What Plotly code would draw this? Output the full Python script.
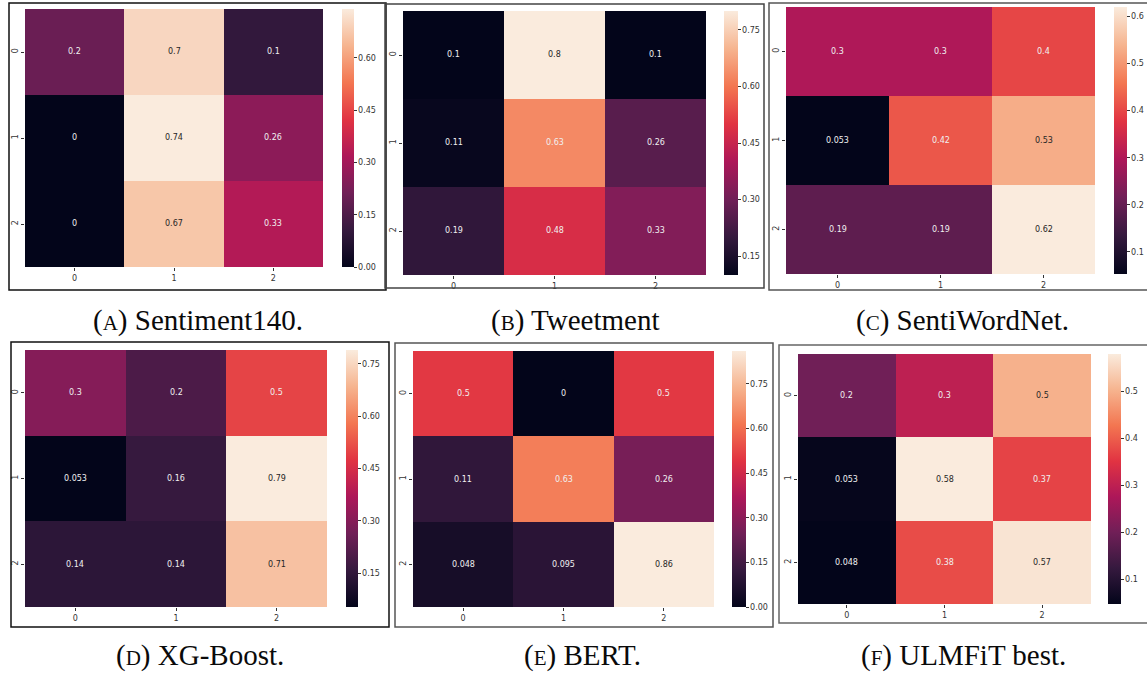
import plotly.graph_objects as go

W, H = 1147, 675

# Confusion-matrix values (rows = true class, cols = predicted class)
sentiment140 = [[0.2, 0.7, 0.1], [0.0, 0.74, 0.26], [0.0, 0.67, 0.33]]
tweetment = [[0.1, 0.8, 0.1], [0.11, 0.63, 0.26], [0.19, 0.48, 0.33]]
sentiwordnet = [[0.3, 0.3, 0.4], [0.053, 0.42, 0.53], [0.19, 0.19, 0.62]]
xgboost = [[0.3, 0.2, 0.5], [0.053, 0.16, 0.79], [0.14, 0.14, 0.71]]
bert = [[0.5, 0.0, 0.5], [0.11, 0.63, 0.26], [0.048, 0.095, 0.86]]
ulmfit = [[0.2, 0.3, 0.5], [0.053, 0.58, 0.37], [0.048, 0.38, 0.57]]

class_labels = ["0", "1", "2"]

caption_letters = ["A", "B", "C", "D", "E", "F"]
caption_names = ["Sentiment140.", "Tweetment", "SentiWordNet.", "XG-Boost.", "BERT.", "ULMFiT best."]

cbar_ticks_a = ["0.00", "0.15", "0.30", "0.45", "0.60"]
cbar_ticks_b = ["0.15", "0.30", "0.45", "0.60", "0.75"]
cbar_ticks_c = ["0.1", "0.2", "0.3", "0.4", "0.5", "0.6"]
cbar_ticks_d = ["0.15", "0.30", "0.45", "0.60", "0.75"]
cbar_ticks_e = ["0.00", "0.15", "0.30", "0.45", "0.60", "0.75"]
cbar_ticks_f = ["0.1", "0.2", "0.3", "0.4", "0.5"]

matrices = [sentiment140, tweetment, sentiwordnet, xgboost, bert, ulmfit]
cbar_ticks = [cbar_ticks_a, cbar_ticks_b, cbar_ticks_c, cbar_ticks_d, cbar_ticks_e, cbar_ticks_f]

# Layout in pixels: heatmap box, colorbar box, frame box, caption centre
panels = [
    dict(hm=(25, 9, 323, 267), cb=(342, 354), frame=(9, 3, 386, 290), cap=(198, 320)),
    dict(hm=(403, 11, 706, 275), cb=(724, 738), frame=(385, 4, 764, 288), cap=(575, 320)),
    dict(hm=(786, 7, 1095, 274), cb=(1114, 1127), frame=(769, 3, 1152, 290), cap=(962, 320)),
    dict(hm=(25, 350, 327, 607), cb=(346, 358), frame=(11, 342, 389, 627), cap=(200, 655)),
    dict(hm=(413, 351, 714, 607), cb=(732, 746), frame=(395, 343, 773, 627), cap=(583, 655)),
    dict(hm=(798, 354, 1091, 604), cb=(1108, 1121), frame=(779, 345, 1152, 623), cap=(963, 655)),
]
frame_colors = ["#111111", "#444444", "#555555", "#111111", "#555555", "#666666"]

# seaborn "rocket" colormap stops
rocket = [
    (0.0, "#03051a"), (0.143, "#35193e"), (0.286, "#701f57"), (0.429, "#ad1759"),
    (0.571, "#e13342"), (0.714, "#f37651"), (0.857, "#f6b48f"), (1.0, "#faebdd"),
]


def hex_rgb(h):
    return tuple(int(h[i:i + 2], 16) for i in (1, 3, 5))


def rocket_rgb(t):
    t = min(max(t, 0.0), 1.0)
    for (p0, c0), (p1, c1) in zip(rocket[:-1], rocket[1:]):
        if t <= p1:
            f = (t - p0) / (p1 - p0) if p1 > p0 else 0
            a, b = hex_rgb(c0), hex_rgb(c1)
            return tuple(a[k] + (b[k] - a[k]) * f for k in range(3))
    return hex_rgb(rocket[-1][1])


def luminance(rgb):
    lin = []
    for c in rgb:
        c = c / 255
        lin.append(c / 12.92 if c <= 0.03928 else ((c + 0.055) / 1.055) ** 2.4)
    return 0.2126 * lin[0] + 0.7152 * lin[1] + 0.0722 * lin[2]


fig = go.Figure()
layout = dict(
    width=W, height=H, margin=dict(l=0, r=0, t=0, b=0),
    paper_bgcolor="white", plot_bgcolor="white", showlegend=False,
)
annotations = []
shapes = []

for i, (z, ticks, p) in enumerate(zip(matrices, cbar_ticks, panels), start=1):
    sfx = "" if i == 1 else str(i)
    flat = [v for row in z for v in row]
    zmin, zmax = min(flat), max(flat)
    x0, y0, x1, y1 = p["hm"]
    cbx0, cbx1 = p["cb"]

    fig.add_trace(go.Heatmap(
        z=z, x=[0, 1, 2], y=[0, 1, 2], coloraxis=f"coloraxis{sfx}",
        xaxis=f"x{sfx}", yaxis=f"y{sfx}", hoverinfo="skip",
    ))

    layout[f"coloraxis{sfx}"] = dict(
        colorscale=[[s, c] for s, c in rocket], cmin=zmin, cmax=zmax,
        colorbar=dict(
            x=cbx0 / W, xanchor="left", xpad=0,
            y=1 - y0 / H, yanchor="top", ypad=0,
            len=y1 - y0, lenmode="pixels",
            thickness=cbx1 - cbx0, thicknessmode="pixels",
            outlinewidth=0, ticks="outside", ticklen=3, tickwidth=0.8,
            tickcolor="#333333",
            tickvals=[float(t) for t in ticks], ticktext=ticks,
            tickfont=dict(family="DejaVu Sans", size=8, color="#333333"),
        ),
    )
    axis_common = dict(
        showgrid=False, zeroline=False, showline=False,
        ticks="outside", ticklen=3, tickwidth=0.8, tickcolor="#333333",
        tickfont=dict(family="DejaVu Sans", size=8, color="#333333"),
        tickvals=[0, 1, 2], ticktext=class_labels,
    )
    layout[f"xaxis{sfx}"] = dict(
        axis_common, domain=[x0 / W, x1 / W], range=[-0.5, 2.5],
        anchor=f"y{sfx}",
    )
    layout[f"yaxis{sfx}"] = dict(
        axis_common, domain=[1 - y1 / H, 1 - y0 / H], range=[2.5, -0.5],
        anchor=f"x{sfx}", tickangle=-90,
    )

    # Cell annotations
    for r, row in enumerate(z):
        for c, v in enumerate(row):
            t = (v - zmin) / (zmax - zmin)
            col = "#262626" if luminance(rocket_rgb(t)) > 0.408 else "#f0f0f0"
            annotations.append(dict(
                x=c, y=r, xref=f"x{sfx}", yref=f"y{sfx}", text=format(v, ".2g"),
                showarrow=False, font=dict(family="DejaVu Sans", size=8, color=col),
            ))

    fx0, fy0, fx1, fy1 = p["frame"]
    shapes.append(dict(
        type="rect", xref="paper", yref="paper",
        x0=fx0 / W, x1=fx1 / W, y0=1 - fy1 / H, y1=1 - fy0 / H,
        line=dict(color=frame_colors[i - 1], width=1.5), fillcolor="rgba(0,0,0,0)",
    ))

    cx, cy = p["cap"]
    letter = caption_letters[i - 1]
    annotations.append(dict(
        x=cx / W, y=1 - cy / H, xref="paper", yref="paper",
        xanchor="center", yanchor="middle", showarrow=False,
        text=f"(<span style='font-size:21px'>{letter}</span>) {caption_names[i - 1]}",
        font=dict(family="Liberation Serif", size=29, color="#0a0a0a"),
    ))

layout["annotations"] = annotations
layout["shapes"] = shapes
fig.update_layout(**layout)
fig.write_html("out.html")
